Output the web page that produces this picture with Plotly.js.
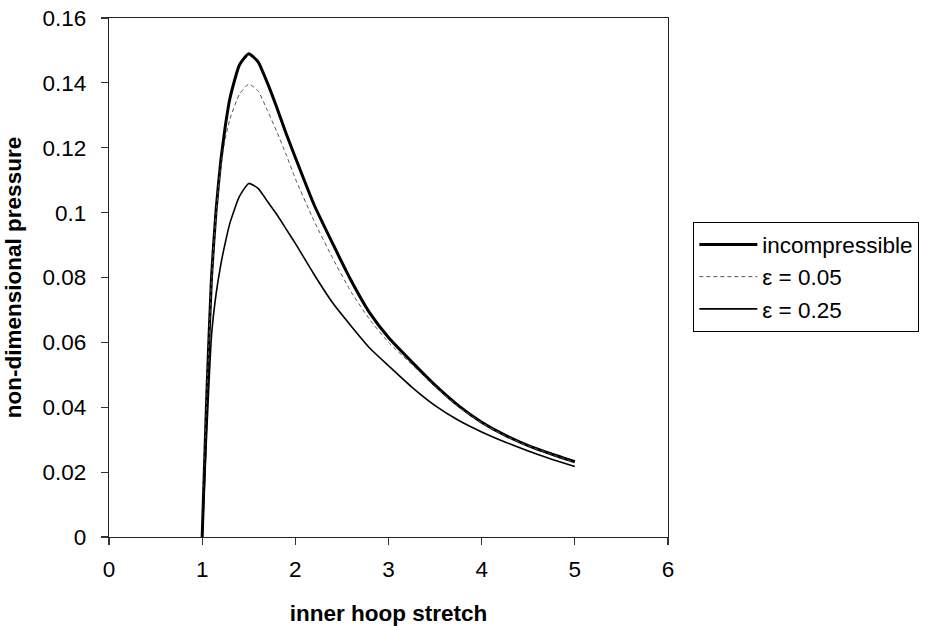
<!DOCTYPE html>
<html>
<head>
<meta charset="utf-8">
<script src="https://cdn.plot.ly/plotly-3.0.1.min.js"></script>
<style>html,body{margin:0;padding:0;background:#fff;}#chart{width:932px;height:626px;}</style>
</head>
<body>
<div id="chart"></div>
<script>
var stretch = [1, 1.05, 1.1, 1.15, 1.2, 1.25, 1.3, 1.4, 1.5, 1.6, 1.7, 1.8, 1.9, 2, 2.2, 2.4, 2.6, 2.8, 3, 3.25, 3.5, 3.75, 4, 4.25, 4.5, 4.75, 5];
var incompressible = [0, 0.044, 0.080, 0.101, 0.116, 0.127, 0.1355, 0.1455, 0.149, 0.1465, 0.140, 0.1325, 0.1245, 0.117, 0.1025, 0.0905, 0.0790, 0.0690, 0.0615, 0.0540, 0.0468, 0.0405, 0.0354, 0.0314, 0.0282, 0.0256, 0.0232];
var eps005 = [0, 0.043, 0.079, 0.100, 0.1145, 0.123, 0.129, 0.1365, 0.1396, 0.1375, 0.1315, 0.125, 0.118, 0.1105, 0.0975, 0.0860, 0.0755, 0.0670, 0.0600, 0.0532, 0.0464, 0.0402, 0.0352, 0.0312, 0.0281, 0.0255, 0.0230];
var eps025 = [0, 0.033, 0.062, 0.075, 0.084, 0.091, 0.097, 0.105, 0.109, 0.1075, 0.1035, 0.0995, 0.0950, 0.0905, 0.0810, 0.0722, 0.0650, 0.0582, 0.0528, 0.0462, 0.0405, 0.0360, 0.0324, 0.0293, 0.0265, 0.0240, 0.0217];
var seriesNames = ['incompressible', '\u03b5 = 0.05', '\u03b5 = 0.25'];
var xTicks = [0, 1, 2, 3, 4, 5, 6];
var yTicks = [0, 0.02, 0.04, 0.06, 0.08, 0.1, 0.12, 0.14, 0.16];
var yTickText = ['0', '0.02', '0.04', '0.06', '0.08', '0.1', '0.12', '0.14', '0.16'];

var font = 'Liberation Sans, Arial, sans-serif';
var fs = 22.5;
var traces = [
  {x: stretch, y: incompressible, name: seriesNames[0], mode: 'lines', line: {color: '#000', width: 3, shape: 'spline', smoothing: 0.5}},
  {x: stretch, y: eps005, name: seriesNames[1], mode: 'lines', line: {color: '#555', width: 1, dash: '4px,3px', shape: 'spline', smoothing: 0.5}},
  {x: stretch, y: eps025, name: seriesNames[2], mode: 'lines', line: {color: '#000', width: 1.6, shape: 'spline', smoothing: 0.5}}
];
var axisCommon = {
  showgrid: false, zeroline: false, showline: true, mirror: true,
  linecolor: '#222', linewidth: 1.3, ticks: 'outside', ticklen: 7, tickwidth: 1.2, tickcolor: '#333',
  tickfont: {family: font, size: fs, color: '#000'}
};
var layout = {
  width: 932, height: 626,
  margin: {l: 109, r: 264, t: 18, b: 89},
  paper_bgcolor: '#fff', plot_bgcolor: '#fff',
  showlegend: true,
  legend: {
    x: 1.0448, y: 0.607, xanchor: 'left', yanchor: 'top',
    bordercolor: '#000', borderwidth: 1.3, bgcolor: '#fff',
    font: {family: font, size: fs, color: '#000'},
    itemwidth: 58, tracegroupgap: 0
  },
  xaxis: Object.assign({}, axisCommon, {
    range: [0, 6], tickmode: 'array', tickvals: xTicks, ticktext: xTicks.map(String),
    ticklabelstandoff: 5,
    title: {text: 'inner hoop stretch', font: {family: font, size: fs, color: '#000', weight: 'bold'}, standoff: 24}
  }),
  yaxis: Object.assign({}, axisCommon, {
    range: [0, 0.16], tickmode: 'array', tickvals: yTicks, ticktext: yTickText,
    ticklabelstandoff: 10,
    title: {text: 'non-dimensional pressure', font: {family: font, size: fs, color: '#000', weight: 'bold'}, standoff: 14}
  })
};
Plotly.newPlot('chart', traces, layout, {displayModeBar: false, staticPlot: true});
</script>
</body>
</html>
